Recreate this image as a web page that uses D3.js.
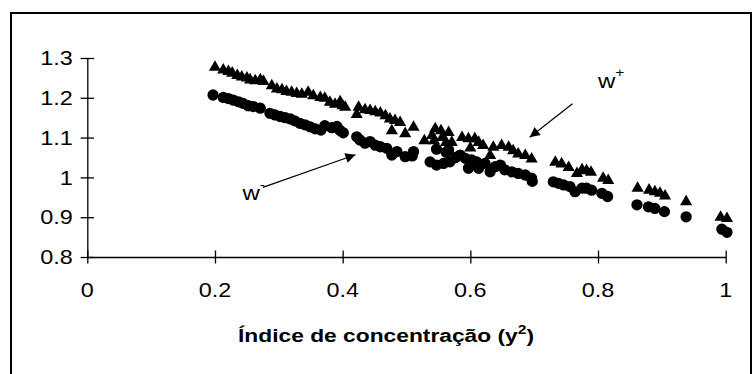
<!DOCTYPE html>
<html>
<head>
<meta charset="utf-8">
<script src="https://cdn.jsdelivr.net/npm/d3@7"></script>
<style>
  body { margin: 0; background: #fff; }
  svg { display: block; }
  text { font-family: "Liberation Sans", Arial, sans-serif; fill: #000; }
</style>
</head>
<body>
<svg id="chart" width="756" height="374"></svg>
<script>
// ---- data ----
const xTicks = [0, 0.2, 0.4, 0.6, 0.8, 1];
const yTicks = [0.8, 0.9, 1, 1.1, 1.2, 1.3];
const xTickLabels = ["0", "0.2", "0.4", "0.6", "0.8", "1"];
const yTickLabels = ["0.8", "0.9", "1", "1.1", "1.2", "1.3"];
const xTitle = "Índice de concentração (y";
const seriesNames = ["w+", "w-"];

// w+ (triangles)
const wPlusX = [0.200,0.213,0.221,0.227,0.235,0.242,0.250,0.255,0.263,0.271,0.276,0.289,0.297,0.305,0.312,0.320,0.328,0.336,0.346,0.354,0.365,0.372,0.380,0.388,0.396,0.400,0.404,
  0.425,0.422,0.435,0.443,0.451,0.459,0.467,0.474,0.482,0.490,0.477,0.498,0.511,
  0.545,0.554,0.566,0.528,0.543,0.562,0.571,0.540,0.556,
  0.587,0.597,0.600,0.607,0.613,0.620,0.631,0.636,0.649,0.660,0.667,0.675,0.686,0.696,
  0.733,0.743,0.754,0.767,0.775,0.782,0.789,0.808,0.816,
  0.862,0.880,0.889,0.897,0.905,0.938,0.992,1.002];
const wPlusY = [1.277,1.270,1.266,1.262,1.256,1.252,1.250,1.245,1.243,1.245,1.241,1.230,1.222,1.220,1.216,1.214,1.211,1.209,1.214,1.205,1.201,1.199,1.189,1.184,1.190,1.180,1.176,
  1.176,1.158,1.170,1.168,1.165,1.162,1.155,1.147,1.143,1.138,1.117,1.110,1.126,
  1.122,1.117,1.113,1.092,1.092,1.088,1.088,1.105,1.100,
  1.100,1.097,1.074,1.097,1.088,1.080,1.055,1.076,1.080,1.076,1.067,1.059,1.055,1.046,
  1.038,1.034,1.025,1.010,1.019,1.017,1.013,0.998,0.992,
  0.973,0.968,0.964,0.960,0.953,0.939,0.900,0.897];

// w- (circles)
const wMinusX = [0.197,0.213,0.221,0.229,0.237,0.244,0.252,0.260,0.271,0.286,0.294,0.302,0.310,0.318,0.325,0.333,0.341,0.349,0.357,0.366,0.372,0.383,0.391,0.396,0.401,
  0.422,0.427,0.435,0.443,0.451,0.459,0.469,0.477,0.485,0.498,0.511,0.509,
  0.537,0.547,0.558,0.566,0.568,0.547,0.562,0.577,
  0.584,0.592,0.597,0.602,0.610,0.613,0.623,0.631,0.639,0.647,0.654,0.665,0.675,0.686,0.696,0.697,
  0.730,0.738,0.746,0.756,0.764,0.775,0.782,0.790,0.806,0.815,
  0.861,0.879,0.889,0.904,0.938,0.994,1.002];
const wMinusY = [1.207,1.201,1.198,1.194,1.190,1.186,1.180,1.178,1.174,1.161,1.157,1.153,1.150,1.147,1.142,1.136,1.132,1.127,1.122,1.119,1.130,1.125,1.128,1.118,1.112,
  1.102,1.094,1.086,1.090,1.081,1.077,1.073,1.056,1.065,1.052,1.065,1.054,
  1.039,1.031,1.035,1.069,1.039,1.071,1.063,1.050,
  1.056,1.048,1.023,1.044,1.039,1.023,1.035,1.014,1.027,1.031,1.019,1.014,1.010,1.006,0.998,0.990,
  0.989,0.985,0.981,0.977,0.964,0.973,0.973,0.968,0.960,0.952,
  0.931,0.926,0.922,0.914,0.901,0.870,0.862];

// annotation positions in data units
const annPlus = {text: [0.80, 1.225], from: [0.76, 1.185], to: [0.693, 1.101]};
const annMinus = {text: [0.243, 0.942], from: [0.275, 0.975], to: [0.42, 1.057]};

// ---- drawing ----
const svg = d3.select("#chart");
const SX = 1.2; // horizontal stretch of the reference's lettering

const x = d3.scaleLinear().domain([0, 1]).range([87.3, 725.7]);
const y = d3.scaleLinear().domain([0.8, 1.3]).range([257, 58]);

// frame
svg.append("rect").attr("x", 11).attr("y", 13).attr("width", 740).attr("height", 380)
  .attr("fill", "none").attr("stroke", "#000").attr("stroke-width", 2);

function stretchedText(g, px, py, anchor) {
  return g.append("text")
    .attr("transform", `translate(${px},${py}) scale(${SX},1)`)
    .attr("text-anchor", anchor);
}

// y axis
const yAxis = svg.append("g").attr("transform", `translate(${x(0)},0)`)
  .call(d3.axisLeft(y).tickValues(yTicks).tickSize(0).tickFormat(""));
yAxis.select(".domain").attr("stroke", "#000").attr("stroke-width", 1.3);
yAxis.selectAll(".tick line").attr("x1", -6.7).attr("x2", 6.7).attr("stroke", "#000").attr("stroke-width", 1.3);
yTicks.forEach((v, i) => {
  stretchedText(svg, 72.7, y(v) + 7.2, "end").attr("font-size", 19.5).text(yTickLabels[i]);
});

// x axis
const xAxis = svg.append("g").attr("transform", `translate(0,${y(0.8)})`)
  .call(d3.axisBottom(x).tickValues(xTicks).tickSize(0).tickFormat(""));
xAxis.select(".domain").attr("stroke", "#000").attr("stroke-width", 1.3);
xAxis.selectAll(".tick line").attr("y1", -6.5).attr("y2", 6.5).attr("stroke", "#000").attr("stroke-width", 1.3);
xTicks.forEach((v, i) => {
  stretchedText(svg, x(v), 297, "middle").attr("font-size", 19.5).text(xTickLabels[i]);
});

// x title
const t = stretchedText(svg, 386, 341.5, "middle").attr("font-size", 19).attr("font-weight", "bold");
t.append("tspan").text(xTitle);
t.append("tspan").attr("font-size", 13).attr("dy", -8).text("2");
t.append("tspan").attr("dy", 8).text(")");

// points
const tri = d3.symbol().type(d3.symbolTriangle).size(64);
const circ = d3.symbol().type(d3.symbolCircle).size(100);
const plus = wPlusX.map((v, i) => [v, wPlusY[i]]);
const minus = wMinusX.map((v, i) => [v, wMinusY[i]]);

svg.append("g").selectAll("path").data(minus).join("path")
  .attr("d", circ).attr("transform", d => `translate(${x(d[0])},${y(d[1])})`).attr("fill", "#000");
svg.append("g").selectAll("path").data(plus).join("path")
  .attr("d", tri).attr("transform", d => `translate(${x(d[0])},${y(d[1])})`).attr("fill", "#000");

// arrows
const defs = svg.append("defs");
defs.append("marker").attr("id", "ah").attr("viewBox", "0 0 10 10").attr("refX", 10).attr("refY", 5)
  .attr("markerWidth", 12).attr("markerHeight", 10).attr("markerUnits", "userSpaceOnUse")
  .attr("orient", "auto").append("path").attr("d", "M0,0 L10,5 L0,10 Z").attr("fill", "#000");

[annPlus, annMinus].forEach(a => {
  svg.append("line")
    .attr("x1", x(a.from[0])).attr("y1", y(a.from[1]))
    .attr("x2", x(a.to[0])).attr("y2", y(a.to[1]))
    .attr("stroke", "#000").attr("stroke-width", 1.2).attr("marker-end", "url(#ah)");
});

function labelW(a, sup) {
  const tx = stretchedText(svg, x(a.text[0]), y(a.text[1]), "start").attr("font-size", 20);
  tx.append("tspan").text("w");
  tx.append("tspan").attr("font-size", 13).attr("dy", -11).text(sup);
}
labelW(annPlus, "+");
labelW(annMinus, "-");
</script>
</body>
</html>
